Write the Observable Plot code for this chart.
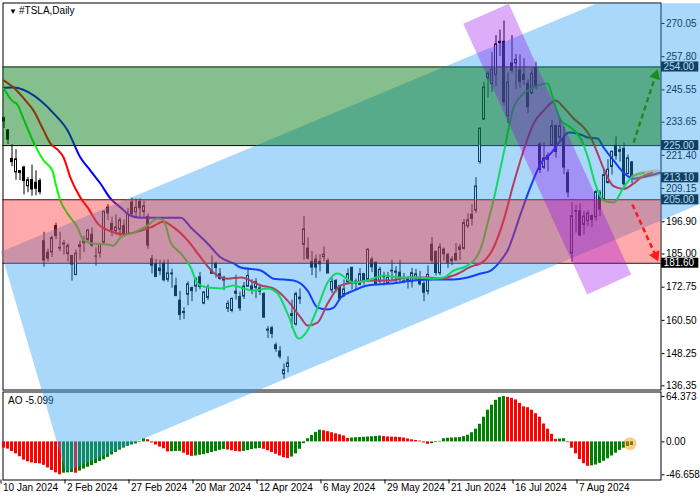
<!DOCTYPE html>
<html lang="en"><head><meta charset="utf-8">
<script src="https://cdn.jsdelivr.net/npm/d3@7"></script>
<script src="https://cdn.jsdelivr.net/npm/@observablehq/plot@0.6"></script>
<style>
html,body{margin:0;padding:0;background:#fff;overflow:hidden}
#wrap{position:relative;width:700px;height:500px}
#wrap svg{position:absolute;left:0;top:0}
</style></head><body><div id="wrap"></div>
<script>
// ---------- data ----------
const symbolTitle = "#TSLA,Daily";
const tickIdx = [0,16,32,48,64,80,96,112,128,144];
const tickLabels = ["10 Jan 2024","2 Feb 2024","27 Feb 2024","20 Mar 2024","12 Apr 2024","6 May 2024","29 May 2024","21 Jun 2024","16 Jul 2024","7 Aug 2024"];
const priceTicks = [270.05,257.80,245.55,233.65,221.40,209.15,196.90,185.00,172.75,160.50,148.25,136.35];
const aoTicks = [64.373, 0, -46.658];
const aoTickLabels = ["64.373","0.00","-46.658"];

const open = [235.1,230.6,220.1,215.1,214.9,216.9,210.0,212.3,211.3,211.9,
189.7,185.5,185.6,195.3,187.0,188.5,185.0,184.3,177.2,188.2,
189.0,190.2,192.1,184.0,185.3,189.2,202.1,196.1,193.4,194.0,
195.3,192.3,204.0,200.4,204.2,200.5,198.7,183.1,181.3,179.6,
181.5,175.5,177.8,173.1,167.8,163.2,170.0,172.4,173.0,176.4,
166.7,168.8,178.6,181.4,177.5,176.2,164.8,164.0,170.3,169.1,
169.3,172.9,173.0,172.5,172.3,170.2,156.7,157.6,151.3,149.0,
140.6,143.3,162.8,159.0,168.9,188.4,187.0,182.0,182.9,182.1,
183.8,182.4,171.6,175.0,173.1,170.0,174.5,179.9,174.1,173.6,
177.6,175.5,182.9,181.8,174.8,176.4,174.2,178.6,178.5,178.1,
174.8,175.4,174.6,176.1,176.1,173.9,171.1,188.4,185.8,177.9,
186.6,184.7,182.3,185.0,186.5,186.9,195.2,199.5,201.0,218.9,
234.6,249.8,247.7,251.0,262.8,263.3,235.8,255.3,255.3,252.7,
251.1,247.8,244.2,253.6,225.4,216.8,221.2,224.9,232.3,227.9,
227.7,214.9,185.2,200.8,200.8,195.7,197.1,199.0,198.5,207.4,
205.0,211.2,217.1,224.9,222.7,223.8,214.5,218.8];
const high = [235.5,230.9,225.3,223.5,215.7,217.4,213.2,217.8,215.7,212.7,
193.0,186.8,191.5,196.4,193.0,189.9,188.7,184.4,186.5,189.8,
191.6,194.1,194.7,187.3,188.9,200.9,203.2,198.6,199.4,198.3,
197.6,201.8,205.6,205.3,205.3,204.5,199.8,184.5,183.0,182.7,
182.7,182.9,179.4,176.1,171.2,165.2,174.7,172.8,176.2,178.2,
171.2,173.6,184.3,181.9,179.6,176.8,167.7,168.8,177.2,170.9,
174.5,179.8,175.5,175.9,173.8,170.7,158.2,158.3,152.2,150.9,
144.4,147.1,168.0,170.9,172.1,198.9,190.9,185.9,184.6,184.8,
187.6,183.3,176.1,175.6,173.1,175.4,179.5,179.9,175.8,179.6,
177.8,186.9,183.8,181.9,180.1,178.3,178.2,182.7,180.3,182.6,
177.8,176.2,179.7,179.3,178.6,174.8,180.6,191.1,186.0,188.8,
187.2,185.2,184.0,188.8,188.5,197.8,199.8,203.2,213.2,231.3,
248.4,252.4,259.4,265.6,267.6,271.0,251.8,265.6,258.6,258.5,
257.1,249.4,253.2,255.8,226.0,226.0,222.3,234.3,232.4,234.7,
231.9,216.1,203.9,202.9,203.5,200.7,200.9,199.3,208.5,208.4,
215.9,219.8,223.0,228.2,224.7,226.0,221.5,219.1];
const low = [231.3,225.4,217.2,212.2,212.0,206.8,207.6,206.3,206.5,206.8,
180.1,182.1,183.7,190.3,185.9,184.6,182.0,175.0,177.1,182.7,
185.5,189.5,187.4,180.5,183.4,188.8,197.4,191.4,192.0,191.4,
191.5,192.0,198.3,198.4,198.4,198.5,186.7,177.6,176.4,177.0,
174.7,174.5,172.4,169.2,160.5,160.8,165.9,167.4,170.9,171.8,
166.3,167.8,177.6,176.1,175.3,171.5,163.4,163.3,168.0,163.8,
168.2,172.9,170.0,168.5,169.7,161.4,153.8,153.8,148.7,146.2,
138.8,141.1,157.5,158.4,166.4,182.7,182.7,177.0,176.0,178.4,
182.2,177.8,170.4,170.7,167.8,169.0,174.1,171.7,171.4,173.3,
173.5,174.7,178.1,173.3,173.7,173.2,173.9,175.2,173.8,174.5,
174.0,172.1,172.5,175.3,173.2,167.4,169.8,181.2,176.9,177.0,
182.4,179.7,180.7,182.4,182.6,186.4,194.4,195.3,200.0,218.1,
234.3,242.5,244.6,246.7,257.9,239.6,233.1,251.7,245.8,246.2,
247.2,236.8,243.8,245.6,214.7,216.2,215.3,224.7,220.4,226.6,
214.3,205.7,182.0,192.7,191.5,192.0,195.1,194.7,197.1,198.8,
204.8,210.8,214.1,219.6,218.9,209.6,214.2,211.0];
const close = [233.9,227.2,218.9,219.9,215.6,211.9,212.2,208.8,209.1,207.8,
182.6,183.3,190.9,191.6,187.3,188.9,187.9,181.1,185.1,187.6,
189.6,193.6,188.1,184.1,188.7,200.5,200.0,193.8,194.8,197.4,
192.0,199.4,199.7,202.0,201.9,202.6,188.1,180.7,176.5,178.7,
175.3,177.8,177.5,169.5,162.5,163.6,173.8,171.3,175.7,172.8,
170.8,172.6,177.7,179.8,175.8,175.2,166.6,168.4,171.1,164.9,
173.0,176.9,171.8,174.6,171.1,161.5,157.1,155.5,149.9,147.1,
142.1,144.7,162.1,170.2,168.3,194.1,183.3,180.0,180.0,181.2,
184.8,177.8,174.7,172.0,168.5,171.9,177.6,174.0,174.8,177.5,
175.0,186.6,180.1,173.7,179.2,176.8,176.2,178.8,178.1,176.3,
174.9,175.0,177.9,177.5,173.8,170.7,177.3,182.5,178.0,187.4,
184.9,181.6,183.0,182.6,187.4,196.4,197.4,197.9,209.9,231.3,
246.4,251.5,252.9,262.3,263.3,241.0,248.2,252.6,256.6,248.5,
249.2,239.2,251.5,246.4,216.0,220.3,219.8,232.1,222.6,232.1,
216.9,207.7,198.9,200.6,191.8,198.8,200.0,197.5,207.8,201.4,
214.1,216.1,222.7,221.1,223.3,210.7,220.3,213.1];

// Alligator lines: [bar index, price]
const jaw = [[0,246.3],[2.4,246.4],[7.4,243.5],[9.1,241.6],[12.4,236.9],[15.9,230.6],[19.1,220.6],[21.6,215.8],[24.1,211.0],[26.6,205.5],[29.1,202.2],[31.6,199.2],[34.1,198.4],[39.2,198.4],[44.2,198.4],[46.7,194.8],[50.9,188.9],[54.2,183.7],[57.4,181.5],[59.2,180.0],[64.2,178.9],[67.4,175.9],[72.4,175.2],[75.9,171.5],[78.4,165.2],[80.9,164.5],[82.4,165.2],[84.2,168.9],[87.4,171.5],[90.9,173.4],[96.7,174.1],[102.4,175.2],[107.4,175.6],[112.4,175.6],[115.9,176.3],[119.2,177.8],[121.7,178.9],[124.2,182.6],[125.9,186.3],[129.2,200.0],[131.7,210.0],[134.2,218.4],[136.7,222.1],[139.2,226.9],[141.2,229.8],[143.4,229.5],[145.9,228.0],[148.4,227.6],[149.9,224.3],[152.4,219.5],[154.9,215.0],[157.4,212.8],[159.2,213.2],[164,215.0]];
const teeth = [[0,249.0],[2.4,246.4],[5.4,241.6],[7.4,237.9],[9.9,230.6],[11.6,225.8],[13.6,223.2],[14.9,220.6],[16.6,213.2],[19.1,205.8],[20.9,202.2],[23.4,196.3],[26.6,193.4],[29.9,192.3],[34.2,193.6],[36.7,194.8],[39.9,196.9],[42.4,194.8],[45.9,190.0],[49.2,183.7],[52.4,178.1],[55.9,175.9],[59.2,176.3],[64.2,173.4],[67.4,172.3],[70.9,167.8],[74.2,161.5],[75.9,158.6],[78.4,159.7],[80.9,166.7],[84.2,173.4],[87.4,174.5],[92.4,175.2],[96.7,175.2],[100.9,176.3],[105.9,176.3],[109.2,175.9],[112.4,177.1],[117.4,180.7],[119.2,181.5],[122.4,187.4],[124.9,197.4],[127.4,211.0],[129.9,223.2],[132.4,233.2],[134.9,237.9],[137.9,241.6],[139.9,239.1],[142.4,235.0],[144.9,231.7],[146.7,228.0],[148.4,222.1],[149.9,216.5],[152.4,210.0],[154.9,209.0],[157.4,211.0],[159.2,213.2],[162,215.0]];
const lips = [[0,246.0],[2.0,241.6],[3.4,240.0],[4.9,234.8],[7.4,226.2],[9.9,219.5],[12.1,215.8],[12.9,211.0],[14.1,204.7],[15.9,199.9],[18.4,194.8],[19.9,190.0],[22.1,188.9],[25.9,188.5],[27.4,188.1],[29.1,191.1],[32.4,192.9],[35.9,195.5],[38.4,198.1],[39.9,197.4],[41.6,189.5],[44.2,185.2],[46.7,180.0],[48.4,174.1],[50.9,172.6],[54.2,172.3],[57.4,173.4],[59.2,172.6],[62.4,171.5],[65.9,172.3],[68.4,170.4],[70.9,163.0],[73.7,153.8],[75.9,156.8],[78.4,165.2],[80.9,174.5],[83.4,177.8],[87.4,174.5],[90.9,175.2],[94.9,177.1],[99.2,176.3],[103.4,176.3],[107.4,175.9],[109.9,176.3],[112.4,178.9],[115.9,180.7],[119.2,187.1],[120.9,196.3],[122.4,205.0],[124.9,222.1],[127.4,239.1],[129.9,244.2],[132.4,246.4],[135.9,247.9],[137.2,242.7],[139.2,234.3],[141.7,231.7],[144.2,227.5],[145.9,221.0],[147.9,210.5],[149.9,204.7],[152.4,204.0],[154.9,209.5],[157.4,213.9],[160,215.0]];
const endGlow = [[157.6,213.3],[160,214.3],[163.2,215.0]];

// Awesome Oscillator, one value per bar
const ao = [-8.8,-10.2,-13.7,-17,-21,-25.8,-28.3,-29.8,-30.7,-31.2,
-33.2,-37,-40.5,-43.9,-46.658,-44.4,-43.9,-43.4,-44.4,-41.5,
-38.5,-36,-33.6,-30.7,-27.8,-25.4,-22,-18.5,-15,-11.7,
-8.8,-6.3,-4.4,-2.9,-1.0,4.4,3.0,-1.5,-4.4,-7.3,
-9.8,-14.2,-13.9,-13.7,-13.5,-16,-19,-20.5,-20,-19,
-18,-16.6,-15,-13.5,-12,-10.7,-11.5,-12.6,-13.5,-14.2,
-13.5,-12.3,-11,-10,-9.3,-10.5,-12.5,-15,-17.5,-20,
-22.5,-23.5,-21.5,-17,-10.5,-2.5,4.5,9,13.5,16.6,
15.8,14.5,13,11.5,10,8.5,5.0,5.5,5.9,6.2,
6.5,6.9,7.3,7.8,8.3,7.6,7.0,6.8,6.6,6.2,
5.5,4.2,3.0,2.0,1.2,-1.5,-3.5,-2.5,-1,0.8,
4.5,5.2,5.5,5.8,6.2,7.5,9.5,13,18,25,
35,45,52,59,63,64.373,63.2,61.8,59.5,54.6,
49.7,48.5,44.9,40,35,25.4,18,10.7,3.5,4.0,
4.5,-1,-9,-17,-25,-31,-34.6,-34,-32.8,-30.5,
-27.5,-24,-20,-16,-12,-8.8,-6.5,-5.099];

// Levels and zones (price)
const levels = [254.00, 225.00, 205.00, 181.60];
const lastPrice = 213.10;
const greenZone = [225.00, 254.00];
const redZone = [181.60, 205.00];
// Channels: polygon corners as [bar index, price]
const blueChannel = [[-0.78,185.84],[148.3,277.54],[179.1,277.54],[179.1,206.62],[15.4,104.74]];
const purpleChannel = [[114.8,269.94],[126.2,277.32],[156.8,177.43],[145.8,170.05]];
// Forecast arrows: tail -> head (bar index, price)
const arrowUp = {x1:157.4, y1:226.1, x2:162.9, y2:250.9};
const arrowDown = {x1:157.1, y1:203.3, x2:162.9, y2:184.4};

// ---------- drawing ----------
const FONT = "'Liberation Sans', Arial, Helvetica, sans-serif";
const X = {type:"linear", domain:[0,157], range:[3.5,631.5]};
const Y = {type:"linear", domain:[135.0,277.54], range:[389,2.7]};
const kx = (X.range[1]-X.range[0])/(X.domain[1]-X.domain[0]);
const ky = (Y.range[0]-Y.range[1])/(Y.domain[1]-Y.domain[0]);

const bars = open.map((o,i)=>({i, o, h:high[i], l:low[i], c:close[i]}));
const tags = [...levels.slice(0,2), lastPrice, ...levels.slice(2)];
const arrows = [{...arrowUp, color:"#1c8c1c"}, {...arrowDown, color:"#ff1a1a"}];
const P = d=>d[0], Q = d=>d[1];

const aoBars = ao.map((v,i)=>({i, v, col: i>0 && v>ao[i-1] ? "#008000" : "#ff0000"}));

const aoPlot = Plot.plot({
  width:700, height:500,
  marginTop:391.5, marginBottom:20.5, marginLeft:2.5, marginRight:39.5,
  x:{...X, label:null}, y:{type:"linear", domain:[-46.658,64.373], range:[474.3,396], label:null},
  color:{type:"identity"},
  style:{background:"#fff", fontFamily:FONT, fontSize:"10px", color:"#000"},
  marks:[
    Plot.frame({stroke:"#000"}),
    Plot.rect(aoBars, {x1:d=>d.i-0.375, x2:d=>d.i+0.375, y1:0, y2:"v", fill:"col"}),
    Plot.dot([ao.length-1], {x:d=>d-0.5, y:d=>ao[d]/2, r:6.5, fill:"#ff8c00", fillOpacity:0.45}),
    Plot.axisY({anchor:"right", label:null, ticks:aoTicks, tickFormat:d=>aoTickLabels[aoTicks.indexOf(d)], tickSize:3, tickPadding:2, fontSize:10}),
    Plot.axisX({anchor:"bottom", label:null, ticks:tickIdx, tickFormat:()=>"", tickSize:4, dx:-3}),
    Plot.axisX({anchor:"bottom", label:null, ticks:tickIdx, tickFormat:d=>tickLabels[tickIdx.indexOf(d)], tickSize:0, tickPadding:4, textAnchor:"start", dx:-1, fontSize:10}),
    Plot.text([`AO ${ao[ao.length-1]}`], {text:d=>d, frameAnchor:"top-left", dx:5, dy:5, textAnchor:"start", lineAnchor:"top", fontSize:10})
  ]
});

const mainPlot = Plot.plot({
  width:700, height:500,
  marginTop:2.5, marginBottom:110.5, marginLeft:2.5, marginRight:39.5,
  x:{...X, axis:null, label:null}, y:{...Y, label:null},
  color:{type:"identity"},
  style:{background:"transparent", fontFamily:FONT, fontSize:"10px", color:"#000"},
  marks:[
    Plot.frame({stroke:"#000"}),
    Plot.axisY({anchor:"right", label:null, ticks:priceTicks, tickFormat:d=>d.toFixed(2), tickSize:3, tickPadding:2, fontSize:10}),
    Plot.ruleY(levels, {stroke:"#000", strokeWidth:1}),
    Plot.ruleX(bars, {x:"i", y1:"l", y2:"h", stroke:"#000", strokeWidth:1}),
    Plot.rect(bars, {x1:d=>d.i-0.25, x2:d=>d.i+0.25,
      y1:d=>Math.min(d.o,d.c), y2:d=>Math.max(d.o,d.c)+(d.o===d.c?0.15:0),
      fill:d=>d.c>=d.o?"#fff":"#000", stroke:"#000", strokeWidth:1}),
    Plot.line(jaw, {x:P, y:Q, stroke:"#0000ff", strokeWidth:2, curve:"monotone-x"}),
    Plot.line(teeth, {x:P, y:Q, stroke:"#ff0000", strokeWidth:2, curve:"monotone-x"}),
    Plot.line(lips, {x:P, y:Q, stroke:"#00ff00", strokeWidth:2, curve:"monotone-x"}),
    Plot.line(endGlow, {x:P, y:Q, stroke:"#ff8c00", strokeWidth:7, strokeOpacity:0.45, strokeLinecap:"round", curve:"monotone-x"}),
    Plot.rect(tags, {x1:164.4, x2:173.7, y1:d=>d-1.85, y2:d=>d+1.85, fill:"#000"}),
    Plot.text(tags, {x:164.4, y:d=>d, text:d=>d.toFixed(2), fill:"#fff", textAnchor:"start", dx:2, fontSize:10}),
    Plot.line(blueChannel, {x:P, y:Q, fill:"#2a9df2", fillOpacity:0.4, stroke:"none", curve:"linear-closed"}),
    Plot.rect([greenZone], {y1:P, y2:Q, fill:"rgb(0,122,16)", fillOpacity:0.48}),
    Plot.rect([redZone], {y1:P, y2:Q, fill:"rgb(255,42,42)", fillOpacity:0.4}),
    Plot.line(purpleChannel, {x:P, y:Q, fill:"rgb(150,0,240)", fillOpacity:0.32, stroke:"none", curve:"linear-closed"}),
    Plot.link(arrows, {x1:"x1", y1:"y1", x2:"x2", y2:"y2", stroke:"color", strokeWidth:2.5, strokeDasharray:"5,3.5"}),
    Plot.dot(arrows, {x:"x2", y:"y2", symbol:"triangle", r:4.2, fill:"color", stroke:"none",
      rotate:d=>Math.atan2((d.x2-d.x1)*kx, (d.y2-d.y1)*ky)*180/Math.PI}),
    Plot.text(["▼"], {text:d=>d, frameAnchor:"top-left", dx:6, dy:5, fontSize:8, lineAnchor:"top"}),
    Plot.text([symbolTitle], {text:d=>d, frameAnchor:"top-left", dx:16, dy:4, textAnchor:"start", lineAnchor:"top", fontSize:10})
  ]
});

const wrap = document.getElementById("wrap");
wrap.appendChild(aoPlot);
wrap.appendChild(mainPlot);
</script>
</body></html>
